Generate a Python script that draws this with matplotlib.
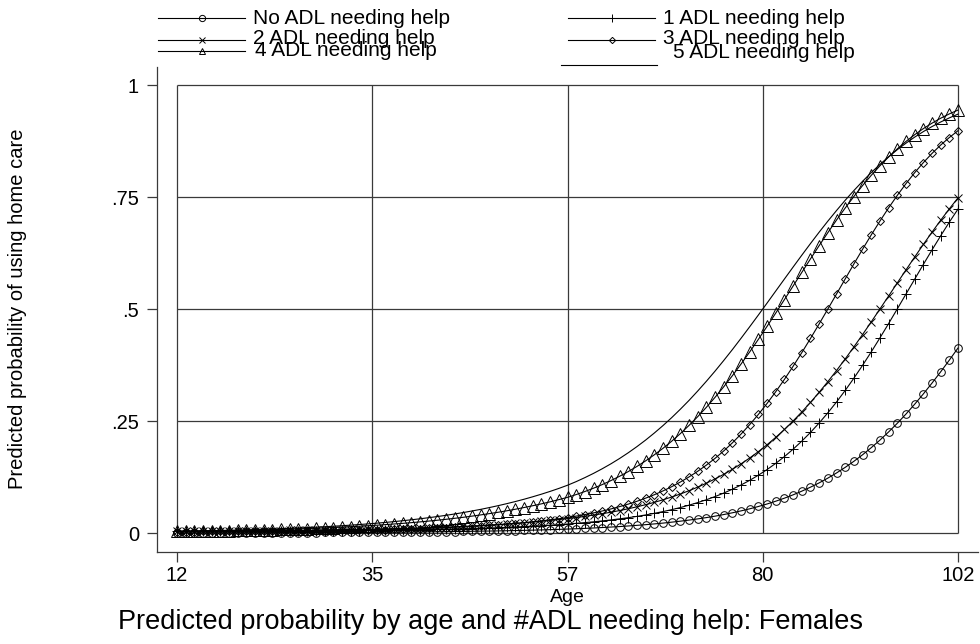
import numpy as np
import matplotlib
matplotlib.use("Agg")
import matplotlib.pyplot as plt
from matplotlib.lines import Line2D

plt.rcParams['font.family'] = ['Liberation Sans', 'DejaVu Sans']

# predicted probabilities, one value per year of age (12..102)
ages = np.arange(12, 103)

no_adl = [0.0005, 0.0005, 0.0005, 0.0005, 0.0006, 0.0006, 0.0006, 0.0007, 0.0007, 0.0008,
          0.0008, 0.0008, 0.0009, 0.0009, 0.0010, 0.0011, 0.0011, 0.0012, 0.0013, 0.0014,
          0.0015, 0.0015, 0.0017, 0.0018, 0.0019, 0.0020, 0.0021, 0.0023, 0.0025, 0.0026,
          0.0028, 0.0030, 0.0033, 0.0035, 0.0038, 0.0041, 0.0044, 0.0047, 0.0051, 0.0055,
          0.0059, 0.0064, 0.0069, 0.0075, 0.0081, 0.0088, 0.0095, 0.0103, 0.0112, 0.0122,
          0.0133, 0.0144, 0.0157, 0.0171, 0.0186, 0.0203, 0.0221, 0.0242, 0.0264, 0.0288,
          0.0315, 0.0344, 0.0376, 0.0412, 0.0451, 0.0494, 0.0540, 0.0592, 0.0648, 0.0710,
          0.0778, 0.0852, 0.0934, 0.1023, 0.1119, 0.1225, 0.1340, 0.1465, 0.1600, 0.1746,
          0.1904, 0.2073, 0.2255, 0.2448, 0.2654, 0.2873, 0.3103, 0.3345, 0.3597, 0.3859,
          0.4129]

adl1 = [0.0037, 0.0037, 0.0037, 0.0037, 0.0037, 0.0038, 0.0038, 0.0039, 0.0039, 0.0040,
        0.0041, 0.0042, 0.0042, 0.0043, 0.0045, 0.0046, 0.0047, 0.0048, 0.0050, 0.0051,
        0.0053, 0.0055, 0.0057, 0.0059, 0.0062, 0.0064, 0.0067, 0.0070, 0.0073, 0.0077,
        0.0081, 0.0085, 0.0089, 0.0094, 0.0100, 0.0105, 0.0112, 0.0118, 0.0126, 0.0134,
        0.0143, 0.0152, 0.0163, 0.0174, 0.0187, 0.0200, 0.0216, 0.0232, 0.0250, 0.0270,
        0.0292, 0.0316, 0.0342, 0.0371, 0.0403, 0.0439, 0.0478, 0.0521, 0.0568, 0.0621,
        0.0679, 0.0742, 0.0813, 0.0891, 0.0977, 0.1072, 0.1176, 0.1291, 0.1417, 0.1555,
        0.1706, 0.1871, 0.2051, 0.2245, 0.2456, 0.2682, 0.2924, 0.3182, 0.3455, 0.3742,
        0.4042, 0.4354, 0.4674, 0.5001, 0.5332, 0.5663, 0.5993, 0.6317, 0.6633, 0.6939,
        0.7231]

adl2 = [0.0040, 0.0041, 0.0042, 0.0043, 0.0044, 0.0045, 0.0046, 0.0047, 0.0049, 0.0050,
        0.0052, 0.0054, 0.0055, 0.0057, 0.0060, 0.0062, 0.0064, 0.0067, 0.0070, 0.0073,
        0.0076, 0.0079, 0.0083, 0.0087, 0.0091, 0.0096, 0.0101, 0.0106, 0.0112, 0.0118,
        0.0124, 0.0132, 0.0139, 0.0148, 0.0157, 0.0166, 0.0177, 0.0188, 0.0200, 0.0214,
        0.0228, 0.0244, 0.0261, 0.0280, 0.0300, 0.0322, 0.0345, 0.0371, 0.0400, 0.0431,
        0.0464, 0.0501, 0.0541, 0.0585, 0.0632, 0.0684, 0.0741, 0.0803, 0.0870, 0.0944,
        0.1024, 0.1112, 0.1207, 0.1310, 0.1422, 0.1544, 0.1675, 0.1817, 0.1971, 0.2135,
        0.2312, 0.2501, 0.2702, 0.2915, 0.3141, 0.3378, 0.3626, 0.3885, 0.4153, 0.4429,
        0.4712, 0.4999, 0.5289, 0.5581, 0.5871, 0.6158, 0.6440, 0.6714, 0.6980, 0.7236,
        0.7480]

adl3 = [0.0031, 0.0032, 0.0033, 0.0034, 0.0034, 0.0035, 0.0036, 0.0037, 0.0039, 0.0040,
        0.0041, 0.0043, 0.0044, 0.0046, 0.0048, 0.0050, 0.0052, 0.0055, 0.0057, 0.0060,
        0.0063, 0.0066, 0.0070, 0.0074, 0.0078, 0.0083, 0.0088, 0.0093, 0.0099, 0.0105,
        0.0112, 0.0120, 0.0128, 0.0137, 0.0147, 0.0158, 0.0170, 0.0183, 0.0197, 0.0212,
        0.0230, 0.0249, 0.0270, 0.0293, 0.0318, 0.0346, 0.0377, 0.0411, 0.0449, 0.0491,
        0.0537, 0.0589, 0.0645, 0.0708, 0.0778, 0.0854, 0.0939, 0.1033, 0.1137, 0.1251,
        0.1377, 0.1515, 0.1666, 0.1831, 0.2012, 0.2208, 0.2420, 0.2648, 0.2893, 0.3154,
        0.3430, 0.3722, 0.4026, 0.4342, 0.4667, 0.4999, 0.5334, 0.5671, 0.6005, 0.6333,
        0.6653, 0.6961, 0.7256, 0.7535, 0.7797, 0.8041, 0.8266, 0.8472, 0.8659, 0.8828,
        0.8980]

adl4 = [0.0034, 0.0036, 0.0039, 0.0042, 0.0045, 0.0048, 0.0052, 0.0056, 0.0060, 0.0064,
        0.0069, 0.0074, 0.0080, 0.0086, 0.0092, 0.0099, 0.0106, 0.0114, 0.0122, 0.0131,
        0.0141, 0.0151, 0.0162, 0.0174, 0.0187, 0.0201, 0.0215, 0.0231, 0.0248, 0.0266,
        0.0285, 0.0306, 0.0328, 0.0351, 0.0377, 0.0404, 0.0433, 0.0463, 0.0496, 0.0531,
        0.0569, 0.0609, 0.0651, 0.0696, 0.0745, 0.0796, 0.0858, 0.0926, 0.1000, 0.1081,
        0.1170, 0.1266, 0.1371, 0.1486, 0.1610, 0.1745, 0.1890, 0.2048, 0.2218, 0.2401,
        0.2596, 0.2805, 0.3028, 0.3263, 0.3511, 0.3772, 0.4043, 0.4324, 0.4614, 0.4910,
        0.5211, 0.5514, 0.5817, 0.6119, 0.6415, 0.6704, 0.6985, 0.7254, 0.7511, 0.7755,
        0.7983, 0.8196, 0.8393, 0.8574, 0.8740, 0.8890, 0.9026, 0.9148, 0.9258, 0.9355,
        0.9441]

adl5 = [0.0039, 0.0042, 0.0045, 0.0049, 0.0053, 0.0057, 0.0061, 0.0066, 0.0071, 0.0077,
        0.0083, 0.0089, 0.0096, 0.0104, 0.0112, 0.0121, 0.0130, 0.0140, 0.0151, 0.0163,
        0.0175, 0.0189, 0.0203, 0.0219, 0.0236, 0.0254, 0.0274, 0.0295, 0.0317, 0.0342,
        0.0367, 0.0395, 0.0425, 0.0457, 0.0492, 0.0528, 0.0568, 0.0610, 0.0655, 0.0703,
        0.0754, 0.0809, 0.0867, 0.0929, 0.0995, 0.1066, 0.1147, 0.1236, 0.1331, 0.1434,
        0.1544, 0.1663, 0.1791, 0.1928, 0.2074, 0.2231, 0.2397, 0.2574, 0.2762, 0.2959,
        0.3168, 0.3386, 0.3613, 0.3850, 0.4094, 0.4347, 0.4605, 0.4867, 0.5133, 0.5402,
        0.5670, 0.5937, 0.6201, 0.6461, 0.6715, 0.6961, 0.7198, 0.7427, 0.7644, 0.7850,
        0.8045, 0.8227, 0.8397, 0.8556, 0.8701, 0.8836, 0.8959, 0.9072, 0.9174, 0.9266,
        0.9350]

labels = ['No ADL needing help', '1 ADL needing help', '2 ADL needing help',
          '3 ADL needing help', '4 ADL needing help', '5 ADL needing help']

xtick_pos = [12, 34.5, 57, 79.5, 102]
xtick_labels = ['12', '35', '57', '80', '102']
ytick_pos = [0, .25, .5, .75, 1]
ytick_labels = ['0', '.25', '.5', '.75', '1']

W, H = 980, 644
fig = plt.figure(figsize=(W / 100, H / 100), dpi=100)
fig.patch.set_facecolor('white')

# axes box in pixels: left 157, right 978, top 67, bottom 552
ax = fig.add_axes([157 / W, 1 - 552 / H, (978 - 157) / W, (552 - 67) / H])
ax.set_xlim(9.695, 104.305)
ax.set_ylim(-0.0424, 1.0402)

grid_col = '#3a3a3a'
ax.hlines(ytick_pos, xtick_pos[0], xtick_pos[-1], color=grid_col, lw=0.9, zorder=1)
ax.vlines(xtick_pos, ytick_pos[0], ytick_pos[-1], color=grid_col, lw=0.9, zorder=1)

# marker styles per series
styles = [
    dict(marker='o', ms=5.5, mfc='none'),
    dict(marker='+', ms=7),
    dict(marker='x', ms=5.5),
    dict(marker='D', ms=3.6, mfc='none'),
    dict(marker='^', ms=8.5, mfc='none'),
    dict(marker=None),
]
series = [no_adl, adl1, adl2, adl3, adl4, adl5]
for ys, st in zip(series, styles):
    ax.plot(ages, ys, color='black', lw=0.8, mec='black', mew=0.7, zorder=3, **st)

for side in ['top', 'right']:
    ax.spines[side].set_visible(False)
for side in ['left', 'bottom']:
    ax.spines[side].set_color('#3a3a3a')
    ax.spines[side].set_linewidth(0.9)

ax.set_xticks(xtick_pos)
ax.set_xticklabels(xtick_labels)
ax.set_yticks(ytick_pos)
ax.set_yticklabels(ytick_labels)
ax.tick_params(axis='both', direction='out', length=7, width=0.9, color='#3a3a3a',
               labelsize=14.5)
ax.tick_params(axis='x', pad=3)
ax.tick_params(axis='y', pad=6)

# axis titles and caption
fig.text(567.5 / W, 1 - 597 / H, 'Age', ha='center', va='center', fontsize=14)
fig.text(18 / W, 1 - 309 / H, 'Predicted probability of using home care',
         rotation=90, ha='center', va='center', fontsize=14.5)
fig.text(490 / W, 1 - 622 / H,
         'Predicted probability by age and #ADL needing help: Females',
         ha='center', va='center', fontsize=19.5)

# legend, drawn by hand to keep Stata's overlapping rows
def fx(x):
    return x / W

def fy(y):
    return 1 - y / H

leg_sizes = [4.5, 5.5, 5, 3.2, 5, 0]
keys = [  # key x0, key x1, key y, text x, text y
    (158, 245, 18, 253, 18),
    (568, 655, 18, 663, 18),
    (158, 245, 40, 253, 39),
    (568, 655, 40, 663, 39),
    (158, 245, 51, 255, 51),
    (561, 657, 65, 673, 52),
]
for lab, st, sz, (x0, x1, ky, tx, ty) in zip(labels, styles, leg_sizes, keys):
    fig.add_artist(Line2D([fx(x0), fx(x1)], [fy(ky), fy(ky)], color='black', lw=0.8,
                          transform=fig.transFigure))
    if st['marker'] is not None:
        fig.add_artist(Line2D([fx((x0 + x1) / 2)], [fy(ky)], color='black',
                              marker=st['marker'], ms=sz, mfc='none' if st.get('mfc') else 'black',
                              mec='black', mew=0.7, transform=fig.transFigure))
    fig.text(fx(tx), fy(ty), lab, ha='left', va='center', fontsize=15)

fig.savefig('out.png', dpi=100, facecolor='white')
